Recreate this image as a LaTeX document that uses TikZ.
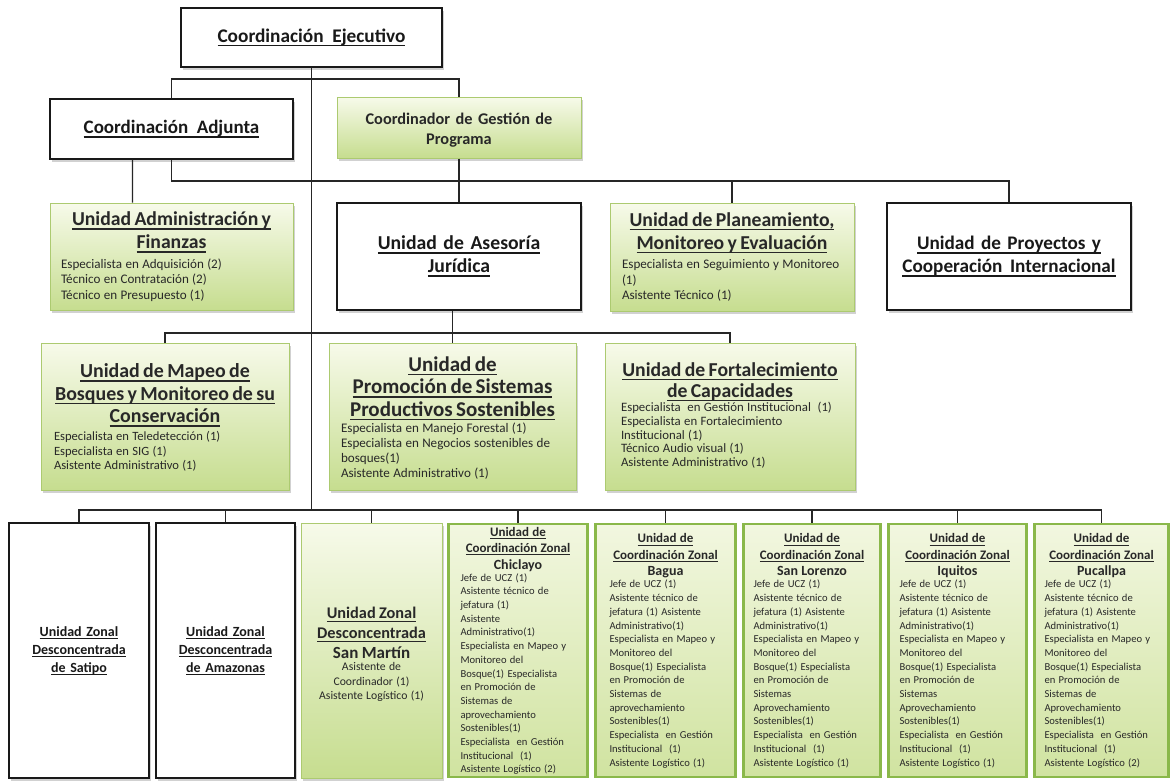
\documentclass[tikz,border=0pt]{standalone}
\usepackage{fontspec}
\setmainfont{Carlito}
\usetikzlibrary{shadows,calc}
\setlength\parindent{0pt}
\definecolor{gTop}{RGB}{247,250,234}
\definecolor{gBot}{RGB}{198,221,143}
\definecolor{gBorder}{RGB}{172,202,112}
\definecolor{zBorder}{RGB}{138,184,74}
\definecolor{zTop}{RGB}{242,247,224}
\definecolor{zBot}{RGB}{208,227,160}
\definecolor{txt}{RGB}{40,40,40}
\newcommand\ulx[1]{\leavevmode{\setbox0\hbox{#1}\rlap{\rule[-0.2em]{\wd0}{0.075em}}\box0}}
\newcommand\staff[1]{\leavevmode\begin{tabular}[t]{@{}l@{}}#1\end{tabular}}
\newcommand\tH{\bfseries\fontsize{19.7}{23}\selectfont}
\newcommand\sS{\fontsize{13.1}{15.5}\selectfont}
\newcommand\ucz[2]{{\centering\bfseries\fontsize{13}{16.5}\selectfont\ulx{Unidad de}\\\ulx{Coordinación Zonal}\\{\fontsize{14}{16.5}\selectfont #1}\par}\vspace{0pt}{\fontsize{10.6}{13.7}\selectfont\staff{#2}}\par\vspace{-3pt}}
\begin{document}
\begin{tikzpicture}[x=1pt,y=-1pt,
  shd/.style={drop shadow={shadow xshift=2pt,shadow yshift=-2.5pt,fill=black,opacity=0.18}},
  wbox/.style={draw=black!90,line width=1.3pt,fill=white,inner sep=0pt,text=black!90,shd},
  gbox/.style={draw=gBorder,line width=1pt,top color=gTop,bottom color=gBot,inner sep=0pt,text=txt,shd},
  zbox/.style={draw=zBorder,line width=2.6pt,top color=zTop,bottom color=zBot,inner sep=0pt,text=txt},
  conn/.style={line width=1.3pt,draw=black!85}]
\useasboundingbox (0,0) rectangle (1173,780);
\fill[white] (0,0) rectangle (1173,780);

% top level
\node[wbox,minimum width=261pt,minimum height=59pt,font={\bfseries\fontsize{19.3}{23}\selectfont}] (ejec) at (311.5,37.5)
  {\ulx{Coordinación\hspace{0.45em}Ejecutivo}};
\node[wbox,minimum width=243pt,minimum height=60pt,font={\bfseries\fontsize{19}{23}\selectfont}] (adj) at (171.5,129)
  {\ulx{Coordinación\hspace{0.45em}Adjunta}};
\node[gbox,minimum width=244pt,minimum height=61pt,text width=230pt,align=center,font={\bfseries\fontsize{16.3}{19.5}\selectfont}] (gest) at (459,127.5)
  {Coordinador de Gestión de\\Programa\par\vspace{-5pt}};

% second level
\node[gbox,minimum width=243pt,minimum height=107pt,text width=221pt,align=left] (admin) at (171.5,256.5)
  {{\centering\tH\ulx{Unidad Administración y}\\\ulx{Finanzas}\par}\vspace{4pt}
   \sS\staff{Especialista en Adquisición (2)\\Técnico en Contratación (2)\\Técnico en Presupuesto (1)}\par\vspace{-3pt}};
\node[wbox,minimum width=244pt,minimum height=107pt,text width=230pt,align=center,font=\tH] (ases) at (459,256.5)
  {\ulx{Unidad de Asesoría}\\\ulx{Jurídica}};
\node[gbox,minimum width=244pt,minimum height=108pt,text width=220pt,align=left] (plan) at (732,257)
  {{\centering\tH\ulx{Unidad de Planeamiento,}\\\ulx{Monitoreo y Evaluación}\par}\vspace{4pt}
   \sS\staff{Especialista en Seguimiento y Monitoreo\\(1)\\Asistente Técnico (1)}\par\vspace{-3pt}};
\node[wbox,minimum width=244pt,minimum height=107pt,text width=234pt,align=center,font={\bfseries\fontsize{19.2}{23}\selectfont}] (proy) at (1009,256.5)
  {\ulx{Unidad de Proyectos y}\\\ulx{Cooperación\hspace{0.4em}Internacional}};

% third level
\node[gbox,minimum width=248pt,minimum height=147pt,text width=222pt,align=left] (mapeo) at (165,416.5)
  {{\centering\bfseries\fontsize{19.9}{22.5}\selectfont\ulx{Unidad de Mapeo de}\\\ulx{Bosques y Monitoreo de su}\\\ulx{Conservación}\par}\vspace{3pt}
   \fontsize{12.6}{14.8}\selectfont\staff{Especialista en Teledetección (1)\\Especialista en SIG (1)\\Asistente Administrativo (1)}\par\vspace{-5pt}};
\node[gbox,minimum width=247pt,minimum height=147pt,text width=223pt,align=left] (prom) at (452.5,416.5)
  {{\centering\bfseries\fontsize{21}{22.5}\selectfont\ulx{Unidad de}\\\ulx{Promoción de Sistemas}\\\ulx{Productivos Sostenibles}\par}\vspace{2pt}
   \fontsize{13.1}{14.8}\selectfont\staff{Especialista en Manejo Forestal (1)\\Especialista en Negocios sostenibles de\\bosques(1)\\Asistente Administrativo (1)}\par\vspace{-5pt}};
\node[gbox,minimum width=250pt,minimum height=147pt,text width=218pt,align=left] (fort) at (730,416.5)
  {{\centering\bfseries\fontsize{19.7}{21}\selectfont\ulx{Unidad de Fortalecimiento}\\\ulx{de Capacidades}\par}
   \fontsize{12.8}{13.6}\selectfont\staff{Especialista\ \ en Gestión Institucional\ \ (1)\\Especialista en Fortalecimiento\\Institucional (1)\\Técnico Audio visual (1)\\Asistente Administrativo (1)}};

% bottom level
\node[wbox,minimum width=140pt,minimum height=255pt,text width=130pt,align=center,font={\bfseries\fontsize{14}{18}\selectfont}] (satipo) at (79,650.5)
  {\ulx{Unidad Zonal}\\\ulx{Desconcentrada}\\\ulx{de Satipo}};
\node[wbox,minimum width=139pt,minimum height=255pt,text width=130pt,align=center,font={\bfseries\fontsize{14}{18}\selectfont}] (amaz) at (225.5,650.5)
  {\ulx{Unidad Zonal}\\\ulx{Desconcentrada}\\\ulx{de Amazonas}};
\node[gbox,minimum width=141pt,minimum height=255pt,text width=136pt,align=center] (sanm) at (371.5,650.5)
  {{\bfseries\fontsize{16.3}{20}\selectfont\ulx{Unidad Zonal}\\\ulx{Desconcentrada}\\{\fontsize{17}{20}\selectfont San Martín}\par}\vspace{-2pt}
   {\fontsize{11.7}{14.5}\selectfont Asistente de\\Coordinador (1)\\Asistente Logístico (1)\par}\vspace{-8pt}};
\node[zbox,minimum width=139pt,minimum height=253pt,text width=115pt,align=left] (chic) at (518,650.5)
  {\ucz{Chiclayo}{Jefe de UCZ (1)\\Asistente técnico de\\jefatura (1)\\Asistente\\Administrativo(1)\\Especialista en Mapeo y\\Monitoreo del\\Bosque(1) Especialista\\en Promoción de\\Sistemas de\\aprovechamiento\\Sostenibles(1)\\Especialista\ \ en Gestión\\Institucional\ \ (1)\\Asistente Logístico (2)}};
\node[zbox,minimum width=140pt,minimum height=253pt,text width=112pt,align=left] (bag) at (665.5,650.5)
  {\ucz{Bagua}{Jefe de UCZ (1)\\Asistente técnico de\\jefatura (1) Asistente\\Administrativo(1)\\Especialista en Mapeo y\\Monitoreo del\\Bosque(1) Especialista\\en Promoción de\\Sistemas de\\aprovechamiento\\Sostenibles(1)\\Especialista\ \ en Gestión\\Institucional\ \ (1)\\Asistente Logístico (1)}};
\node[zbox,minimum width=137pt,minimum height=253pt,text width=117pt,align=left] (slor) at (812,650.5)
  {\ucz{San Lorenzo}{Jefe de UCZ (1)\\Asistente técnico de\\jefatura (1) Asistente\\Administrativo(1)\\Especialista en Mapeo y\\Monitoreo del\\Bosque(1) Especialista\\en Promoción de\\Sistemas\\Aprovechamiento\\Sostenibles(1)\\Especialista\ \ en Gestión\\Institucional\ \ (1)\\Asistente Logístico (1)}};
\node[zbox,minimum width=138pt,minimum height=253pt,text width=116pt,align=left] (iqu) at (957.5,650.5)
  {\ucz{Iquitos}{Jefe de UCZ (1)\\Asistente técnico de\\jefatura (1) Asistente\\Administrativo(1)\\Especialista en Mapeo y\\Monitoreo del\\Bosque(1) Especialista\\en Promoción de\\Sistemas\\Aprovechamiento\\Sostenibles(1)\\Especialista\ \ en Gestión\\Institucional\ \ (1)\\Asistente Logístico (1)}};
\node[zbox,minimum width=134pt,minimum height=253pt,text width=114pt,align=left] (puc) at (1101.5,650.5)
  {\ucz{Pucallpa}{Jefe de UCZ (1)\\Asistente técnico de\\jefatura (1) Asistente\\Administrativo(1)\\Especialista en Mapeo y\\Monitoreo del\\Bosque(1) Especialista\\en Promoción de\\Sistemas de\\Aprovechamiento\\Sostenibles(1)\\Especialista\ \ en Gestión\\Institucional\ \ (1)\\Asistente Logístico (2)}};

% junction rows
\coordinate (jt) at (312,79);
\coordinate (jm) at (312,181);
\coordinate (jb) at (312,333);
\coordinate (jz) at (312,510);

% connectors
\draw[conn] (ejec.south) -- (ejec.south |- jz);
\draw[conn] (adj.north) |- (jt) -| (gest.north);
\draw[conn] ($(adj.south west)!0.34!(adj.south east)$) -- ($(admin.north west)!0.34!(admin.north east)$);
\draw[conn] (adj.south) |- (proy.north |- jm) -- (proy.north);
\draw[conn] (plan.north) -- (plan.north |- jm);
\draw[conn] (gest.south) -- (ases.north);
\draw[conn] (ases.south -| prom.north) -- (prom.north);
\draw[conn] (mapeo.north) |- (fort.north |- jb) -- (fort.north);
\draw[conn] (satipo.north) |- (puc.north |- jz) -- (puc.north);
\foreach \n in {amaz,sanm,chic,bag,slor,iqu}
  \draw[conn] (\n.north) -- (\n.north |- jz);
\end{tikzpicture}
\end{document}
